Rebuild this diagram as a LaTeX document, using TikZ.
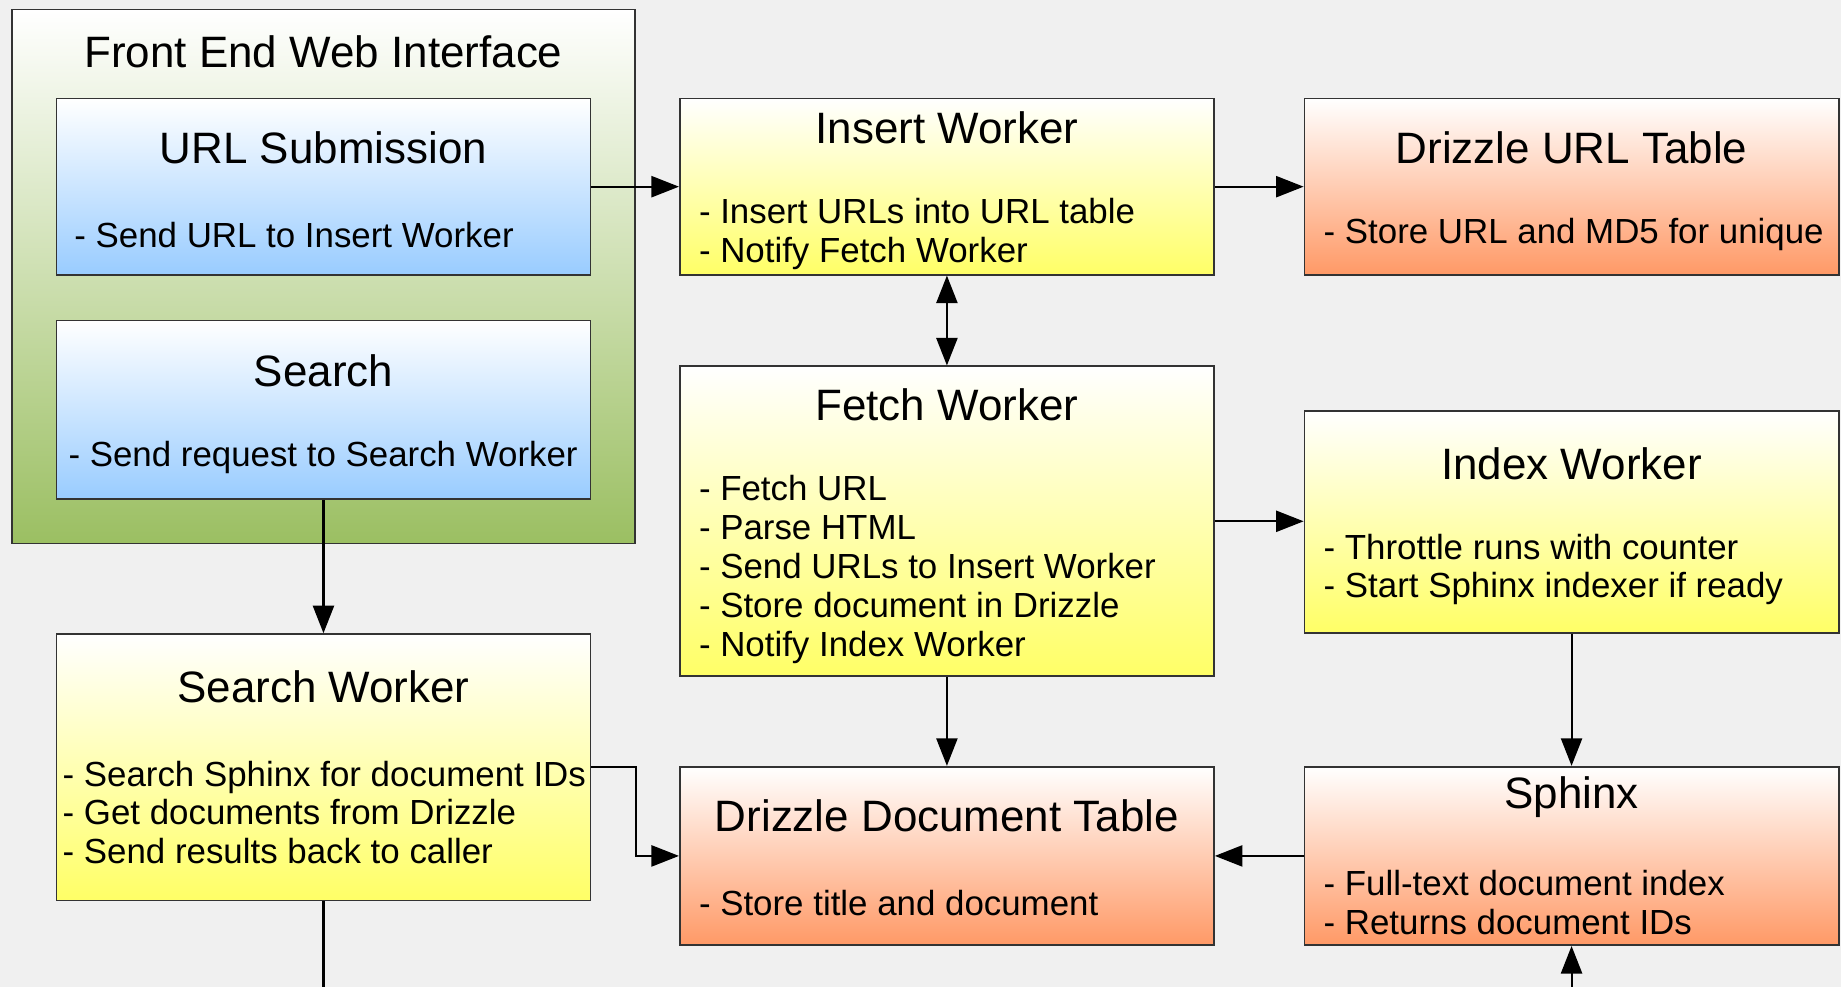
\documentclass[tikz,border=0pt]{standalone}
\usepackage{fontspec}
\setmainfont{Liberation Sans}
\usepackage{xcolor}
\usepackage{tikz}
\usetikzlibrary{arrows.meta,positioning,calc}

\definecolor{bggray}{HTML}{F0F0F0}
\definecolor{boxline}{HTML}{333333}
\definecolor{wkyellow}{HTML}{FFFF66}
\definecolor{uiblue}{HTML}{99CCFF}
\definecolor{dbsalmon}{HTML}{FF9966}
\definecolor{uigreen}{HTML}{9BBF62}

\begin{document}
\begin{tikzpicture}[
        box/.style={draw=boxline,line width=0.8pt,minimum width=9.1cm,inner sep=0pt},
        workerbox/.style={box,top color=white,bottom color=wkyellow},
        uibox/.style={box,top color=white,bottom color=uiblue},
        dbbox/.style={box,top color=white,bottom color=dbsalmon},
        boxtitle/.style={font=\fontsize{21.3}{24}\selectfont,inner sep=0pt},
        boxbody/.style={font=\fontsize{16.9}{18.8}\selectfont,align=left,anchor=west,inner sep=0pt},
        flow/.style={-{Triangle[length=0.47cm,width=0.36cm]},line width=1pt},
        twoway/.style={{Triangle[length=0.47cm,width=0.36cm]}-{Triangle[length=0.47cm,width=0.36cm]},line width=1pt}
    ]
        % Background
        \path[use as bounding box,fill=bggray] (0,0) rectangle (31.36,-16.81);

        % Front end group
        \node[box,minimum width=10.62cm,minimum height=9.1cm,top color=white,bottom color=uigreen] (frontend) at (5.51,-4.71) {};
        \node[boxtitle] (frontendT) at (5.51,-0.88) {Front End Web Interface};

        \node[uibox,minimum height=3cm] (urlsub) at (5.51,-3.18) {};
        \node[boxtitle] (urlsubT) at (5.51,-2.52) {URL Submission};
        \node[boxbody] (urlsubB) at (1.26,-4.0) {- Send URL to Insert Worker};

        \node[uibox,minimum height=3.04cm] (search) at (5.51,-6.98) {};
        \node[boxtitle] (searchT) at (5.51,-6.32) {Search};
        \node[boxbody] (searchB) at (1.16,-7.79) {- Send request to Search Worker};

        % Workers
        \node[workerbox,minimum height=3cm] (insert) at (16.13,-3.18) {};
        \node[boxtitle] (insertT) at (16.13,-2.18) {Insert Worker};
        \node[boxbody] (insertB) at (11.9,-3.99) {- Insert URLs into URL table\\- Notify Fetch Worker};

        \node[workerbox,minimum height=5.28cm] (fetch) at (16.13,-8.88) {};
        \node[boxtitle] (fetchT) at (16.13,-6.9) {Fetch Worker};
        \node[boxbody] (fetchB) at (11.9,-9.7) {- Fetch URL\\- Parse HTML\\- Send URLs to Insert Worker\\- Store document in Drizzle\\- Notify Index Worker};

        \node[workerbox,minimum height=3.78cm] (index) at (26.77,-8.89) {};
        \node[boxtitle] (indexT) at (26.77,-7.9) {Index Worker};
        \node[boxbody] (indexB) at (22.54,-9.7) {- Throttle runs with counter\\- Start Sphinx indexer if ready};

        \node[workerbox,minimum height=4.54cm] (sworker) at (5.51,-13.07) {};
        \node[boxtitle] (sworkerT) at (5.51,-11.7) {Search Worker};
        \node[boxbody] (sworkerB) at (1.06,-13.84) {- Search Sphinx for document IDs\\- Get documents from Drizzle\\- Send results back to caller};

        % Storage
        \node[dbbox,minimum height=3cm] (urltable) at (26.77,-3.18) {};
        \node[boxtitle] (urltableT) at (26.77,-2.52) {Drizzle URL Table};
        \node[boxbody] (urltableB) at (22.54,-4.0) {- Store URL and MD5 for unique};

        \node[dbbox,minimum height=3.04cm] (doctable) at (16.13,-14.58) {};
        \node[boxtitle] (doctableT) at (16.13,-13.9) {Drizzle Document Table};
        \node[boxbody] (doctableB) at (11.9,-15.38) {- Store title and document};

        \node[dbbox,minimum height=3.04cm] (sphinx) at (26.77,-14.58) {};
        \node[boxtitle] (sphinxT) at (26.77,-13.58) {Sphinx};
        \node[boxbody] (sphinxB) at (22.54,-15.37) {- Full-text document index\\- Returns document IDs};

        % Connectors
        \coordinate (callerout) at (5.51,-16.81);
        \coordinate (sphinxin) at (26.77,-16.81);

        \draw[flow] (urlsub.east) -- (insert.west);
        \draw[flow] (insert.east) -- (urltable.west);
        \draw[twoway] (insert.south) -- (fetch.north);
        \draw[flow] (fetch.east) -- (fetch.east -| index.west);
        \draw[flow] (fetch.south) -- (doctable.north);
        \draw[flow] (search.south) -- (sworker.north);
        \draw[flow] (sworker.east) -- ++(0.76,0) |- (doctable.west);
        \draw[flow] (sphinx.west) -- (doctable.east);
        \draw[flow] (index.south) -- (sphinx.north);
        \draw[line width=1pt] (sworker.south) -- (callerout);
        \draw[flow] (sphinxin) -- (sphinx.south);
    \end{tikzpicture}
\end{document}
